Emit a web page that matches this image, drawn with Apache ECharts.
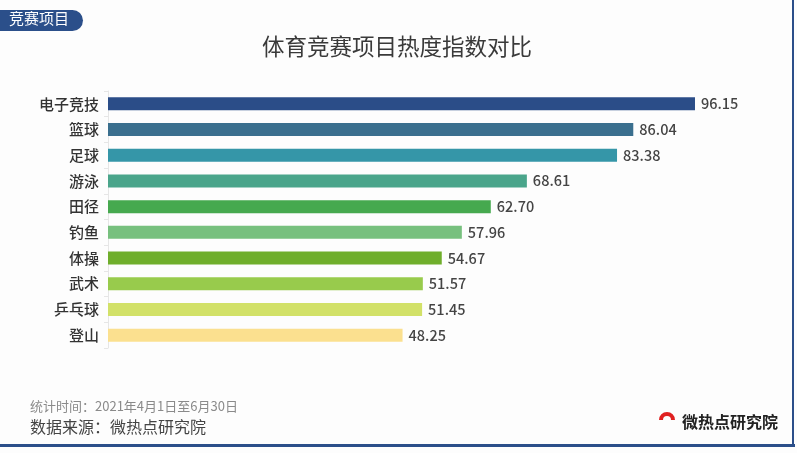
<!DOCTYPE html>
<html>
<head>
<meta charset="utf-8">
<script src="https://cdn.jsdelivr.net/npm/echarts@6/dist/echarts.min.js"></script>
<style>
html,body{margin:0;padding:0;background:#fdfdfd;}
#c{width:797px;height:453px;}
</style>
</head>
<body>
<div id="c"></div>
<script>
const categories = ['电子竞技','篮球','足球','游泳','田径','钓鱼','体操','武术','乒乓球','登山'];
const values = [96.15, 86.04, 83.38, 68.61, 62.70, 57.96, 54.67, 51.57, 51.45, 48.25];
const colors = ['#2b4d88','#3a6f8e','#3596a8','#4aa58b','#46a94f','#77c07e','#6fae2b','#98cb4c','#d2e168','#fbe08f'];

const chart = echarts.init(document.getElementById('c'));
const F = '"Noto Sans CJK SC", "Noto Sans", sans-serif';
chart.setOption({
  backgroundColor: '#fdfdfd',
  animation: false,
  title: {
    text: '体育竞赛项目热度指数对比',
    left: 392, top: 30, textAlign: 'center',
    textStyle: {fontFamily: F, fontSize: 22.5, fontWeight: 'normal', color: '#3a3a3a'}
  },
  grid: {left: 108, right: 797 - 718.5, top: 91, bottom: 453 - 348, containLabel: false},
  xAxis: {type: 'value', min: 0, max: 100, show: false},
  yAxis: {
    type: 'category', data: categories, inverse: true,
    axisLine: {show: true, lineStyle: {color: '#e6e6e6', width: 1}},
    axisTick: {show: true, length: 4, lineStyle: {color: '#e6e6e6'}},
    axisLabel: {fontFamily: F, fontSize: 15, fontWeight: 500, color: '#333', margin: 9}
  },
  series: [{
    type: 'bar',
    data: values.map((v, i) => ({value: v, itemStyle: {color: colors[i]}})),
    barWidth: 13,
    label: {
      show: true, position: 'right', distance: 6,
      formatter: p => p.value.toFixed(2),
      fontFamily: F, fontSize: 14.5, fontWeight: 500, color: '#444'
    }
  }],
  graphic: [
    {type: 'rect', left: 0, top: 10, shape: {width: 83, height: 21, r: [0, 11, 11, 0]}, style: {fill: '#2b4f8a'}},
    {type: 'text', left: 9, top: 11, style: {text: '竞赛项目', fill: '#fff', font: '15px ' + F}},
    {type: 'text', left: 30, top: 400, style: {text: '统计时间：2021年4月1日至6月30日', fill: '#8a8a8a', font: '13px ' + F}},
    {type: 'text', left: 30, top: 419, style: {text: '数据来源：微热点研究院', fill: '#444', font: '16px ' + F}},
    {type: 'rect', left: 0, top: 444, shape: {width: 795, height: 3}, style: {fill: '#2b4f8a'}},
    {type: 'rect', left: 792, top: 0, shape: {width: 2, height: 447}, style: {fill: '#2b4f8a'}},
    {type: 'ring', left: 659, top: 412, shape: {r: 8, r0: 4}, style: {fill: '#e02020'}},
    {type: 'rect', left: 657, top: 420, shape: {width: 20, height: 9}, style: {fill: '#fdfdfd'}},
    {type: 'text', left: 682, top: 414, style: {text: '微热点研究院', fill: '#222', font: 'bold 16px ' + F}}
  ]
});
</script>
</body>
</html>
